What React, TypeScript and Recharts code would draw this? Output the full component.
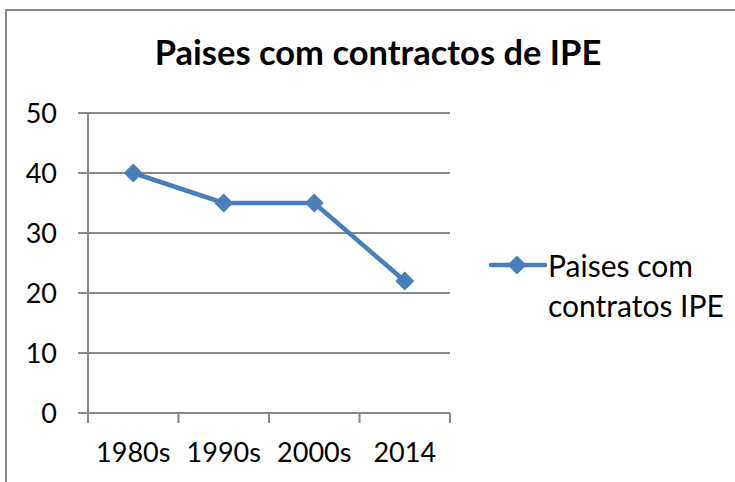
import { LineChart, Line, XAxis, YAxis, CartesianGrid } from "recharts";

const title = "Paises com contractos de IPE";
const seriesName = "Paises com contratos IPE";
const categories = ["1980s", "1990s", "2000s", "2014"];
const countries = [40, 35, 35, 22];
const yTicks = [0, 10, 20, 30, 40, 50];

const data = categories.map((period, i) => ({ period, value: countries[i] }));
// tick marks sit between categories, like Excel
const frameTicks = categories.map((_, i) => i).concat(categories.length);

const FONT = "Lato, 'Open Sans', sans-serif";
const BLUE = "#4A7EBB";
const GRID = "#888888";

const Diamond = (props: any) => {
  const { cx, cy } = props;
  if (cx == null || cy == null) return null;
  return <path d={`M${cx} ${cy - 9.5}L${cx + 9.5} ${cy}L${cx} ${cy + 9.5}L${cx - 9.5} ${cy}Z`} fill={BLUE} />;
};

const LegendBox = () => (
  <div
    style={{
      position: "absolute",
      left: 488,
      top: 245,
      display: "flex",
      alignItems: "flex-start",
      fontFamily: FONT,
      fontSize: 30,
      color: "#000",
    }}
  >
    <svg width={60} height={40} style={{ flex: "none" }}>
      <line x1={3} y1={20} x2={57} y2={20} stroke={BLUE} strokeWidth={4.5} strokeLinecap="round" />
      <path d="M29 10.5L38.5 20L29 29.5L19.5 20Z" fill={BLUE} />
    </svg>
    <div style={{ width: 185, lineHeight: "40px" }}>{seriesName}</div>
  </div>
);

export default function App() {
  return (
    <div style={{ position: "absolute", left: 0, top: 0, width: 735, height: 482, overflow: "hidden", background: "#fff" }}>
      <div style={{ position: "absolute", left: 5, top: 9, width: 800, height: 600, border: `2px solid ${GRID}` }} />
      <div
        style={{
          position: "absolute",
          left: 0,
          top: 31,
          width: 756,
          textAlign: "center",
          fontFamily: FONT,
          fontWeight: 700,
          fontSize: 34.5,
          color: "#000",
        }}
      >
        {title}
      </div>
      <div style={{ position: "absolute", left: 0, top: 0 }}>
        <LineChart width={735} height={482} data={data} margin={{ top: 113, right: 285, bottom: 0, left: 28 }}>
          <CartesianGrid vertical={false} stroke={GRID} strokeWidth={2} />
          <XAxis
            xAxisId="a"
            type="number"
            dataKey="value"
            domain={[0, categories.length]}
            ticks={frameTicks}
            allowDataOverflow
            height={10}
            tick={() => <g />}
            tickLine={{ stroke: GRID, strokeWidth: 2 }}
            tickSize={10}
            stroke={GRID}
            strokeWidth={2}
          />
          <XAxis
            xAxisId="b"
            dataKey="period"
            scale="band"
            height={59}
            axisLine={false}
            tickLine={false}
            tickSize={0}
            tickMargin={20}
            tick={{ fontSize: 27, fontFamily: FONT, fill: "#000" }}
          />
          <YAxis
            domain={[0, 50]}
            ticks={yTicks}
            width={60}
            tickSize={10}
            tickMargin={21}
            stroke={GRID}
            strokeWidth={2}
            tickLine={{ stroke: GRID, strokeWidth: 2 }}
            tick={{ fontSize: 27, fontFamily: FONT, fill: "#000" }}
          />
          <Line
            xAxisId="b"
            dataKey="value"
            name={seriesName}
            stroke={BLUE}
            strokeWidth={4.5}
            dot={<Diamond />}
            activeDot={false}
            isAnimationActive={false}
          />
        </LineChart>
      </div>
      <LegendBox />
    </div>
  );
}
